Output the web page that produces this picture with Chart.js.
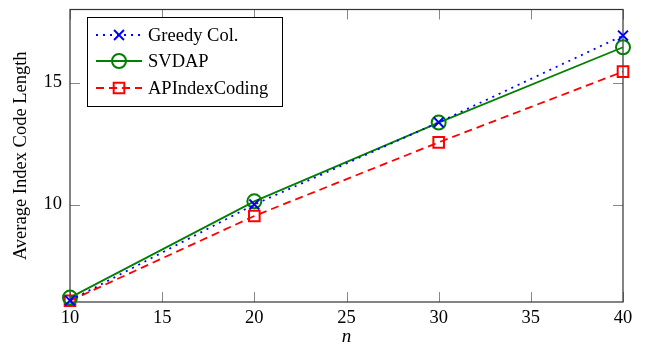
<!DOCTYPE html>
<html><head><meta charset="utf-8">
<script src="https://cdn.jsdelivr.net/npm/chart.js@4/dist/chart.umd.min.js"></script>
<style>html,body{margin:0;padding:0;background:#fff}#wrap{width:649px;height:345px}</style>
</head><body><div id="wrap"><canvas id="c" width="649" height="345"></canvas></div>
<script>
const nValues = [10, 20, 30, 40];
const greedyCol = [6.06, 10.0, 13.37, 16.93];
const svdap = [6.18, 10.13, 13.36, 16.45];
const apIndexCoding = [6.05, 9.53, 12.55, 15.45];
const xTickValues = [10, 15, 20, 25, 30, 35, 40];
const yTickValues = [10, 15];
const seriesNames = ['Greedy Col.', 'SVDAP', 'APIndexCoding'];
const xTitle = 'n';
const yTitle = 'Average Index Code Length';

const FONT = '"Liberation Serif", "DejaVu Serif", serif';
const BLUE = '#0000ff', GREEN = '#008000', RED = '#ff0000';

function pts(ys){ return nValues.map((x,i)=>({x:x, y:ys[i]})); }

const styles = [
  {color: BLUE, dash: [2, 5], point: 'crossRot', radius: 7},
  {color: GREEN, dash: [], point: 'circle', radius: 7},
  {color: RED, dash: [8, 5], point: 'rect', radius: 7.5}
];
const seriesData = [greedyCol, svdap, apIndexCoding];

const frameTicks = {
  id: 'frameTicks',
  beforeDatasetsDraw(chart){
    const ctx = chart.ctx, a = chart.chartArea;
    const xs = chart.scales.x, ys = chart.scales.y;
    ctx.save();
    ctx.strokeStyle = '#888888';
    ctx.lineWidth = 1;
    const L = 10;
    xTickValues.forEach(v=>{
      const px = Math.round(xs.getPixelForValue(v)) + 0.5;
      ctx.beginPath();
      ctx.moveTo(px, a.bottom); ctx.lineTo(px, a.bottom - L);
      ctx.moveTo(px, a.top); ctx.lineTo(px, a.top + L);
      ctx.stroke();
    });
    yTickValues.forEach(v=>{
      const py = Math.round(ys.getPixelForValue(v)) + 0.5;
      ctx.beginPath();
      ctx.moveTo(a.left, py); ctx.lineTo(a.left + L, py);
      ctx.moveTo(a.right, py); ctx.lineTo(a.right - L, py);
      ctx.stroke();
    });
    ctx.strokeStyle = '#333333';
    ctx.lineWidth = 1.2;
    ctx.strokeRect(a.left, a.top, a.right - a.left, a.bottom - a.top);
    ctx.restore();
  },
  afterDraw(chart){
    const ctx = chart.ctx;
    ctx.save();
    const bx = 87, by = 17, bw = 195, bh = 89;
    ctx.fillStyle = '#ffffff';
    ctx.fillRect(bx, by, bw, bh);
    ctx.strokeStyle = '#000000';
    ctx.lineWidth = 1;
    ctx.strokeRect(bx + 0.5, by + 0.5, bw, bh);
    const rows = [35, 61, 88];
    seriesNames.forEach((name, i)=>{
      const st = styles[i], y = rows[i];
      ctx.strokeStyle = st.color;
      ctx.lineWidth = 1.8;
      ctx.setLineDash(st.dash);
      ctx.beginPath(); ctx.moveTo(96, y); ctx.lineTo(142, y); ctx.stroke();
      ctx.setLineDash([]);
      ctx.lineWidth = 2;
      ctx.fillStyle = 'rgba(0,0,0,0)';
      Chart.helpers.drawPoint(ctx, {pointStyle: st.point, radius: st.radius, rotation: 0, borderWidth: 2}, 119, y);
      ctx.fillStyle = '#000';
      ctx.font = '18.5px ' + FONT;
      ctx.textBaseline = 'middle';
      ctx.textAlign = 'left';
      ctx.fillText(name, 148, y + 1);
    });
    ctx.restore();
  }
};

new Chart(document.getElementById('c'), {
  type: 'line',
  data: {
    datasets: seriesNames.map((name, i)=>({
      label: name,
      data: pts(seriesData[i]),
      borderColor: styles[i].color,
      borderWidth: 1.8,
      borderDash: styles[i].dash,
      pointStyle: styles[i].point,
      pointRadius: styles[i].radius,
      pointBorderWidth: 2,
      pointBorderColor: styles[i].color,
      pointBackgroundColor: 'rgba(0,0,0,0)',
      fill: false,
      tension: 0,
      clip: false
    }))
  },
  options: {
    responsive: false,
    animation: false,
    layout: {padding: {top: 8, right: 26, left: 0, bottom: 0}},
    plugins: {legend: {display: false}, tooltip: {enabled: false}},
    scales: {
      x: {
        type: 'linear', min: 10, max: 40,
        afterBuildTicks(s){ s.ticks = xTickValues.map(v=>({value: v})); },
        afterFit(s){ s.height = 43; s.paddingLeft = 0; s.paddingRight = 0; },
        grid: {display: false, drawTicks: false},
        border: {display: false},
        ticks: {color: '#000', padding: 5, font: {family: FONT, size: 18.5}},
        title: {display: true, text: xTitle, color: '#000', padding: 0,
                font: {family: FONT, size: 19, style: 'italic', lineHeight: 0.8}}
      },
      y: {
        type: 'linear', min: 6, max: 18,
        afterBuildTicks(s){ s.ticks = yTickValues.map(v=>({value: v})); },
        afterFit(s){ s.width = 70; s.paddingTop = 0; s.paddingBottom = 0; },
        grid: {display: false, drawTicks: false},
        border: {display: false},
        ticks: {color: '#000', padding: 8, font: {family: FONT, size: 18.5}},
        title: {display: true, text: yTitle, color: '#000', padding: {top: 10, bottom: 0},
                font: {family: FONT, size: 18.5}}
      }
    }
  },
  plugins: [frameTicks]
});
</script></body></html>
